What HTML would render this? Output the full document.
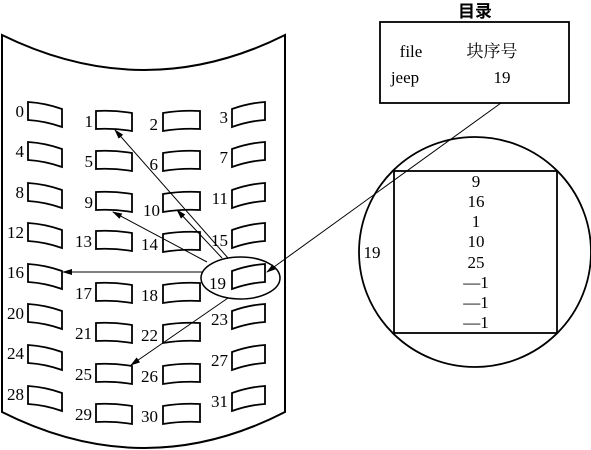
<!DOCTYPE html>
<html><head><meta charset="utf-8"><style>
html,body{margin:0;padding:0;background:#fff;}
svg{display:block;}
text{font-family:"Liberation Serif","Noto Serif CJK SC",serif;font-size:17px;fill:#000;}
</style></head><body>
<svg width="591" height="450" viewBox="0 0 591 450" xmlns="http://www.w3.org/2000/svg">
<defs><marker id="a" markerWidth="10" markerHeight="6" refX="9" refY="3" orient="auto" markerUnits="userSpaceOnUse"><path d="M0,0 L10,3 L0,6 Z" fill="#000"/></marker></defs>
<path d="M2,35 Q145,105 285,35 L285,412 Q145,484 2,412 Z" fill="#fff" stroke="#000" stroke-width="2"/>
<g fill="#fff" stroke="#000" stroke-width="1.8">
<path d="M28,102 Q45,103 62,109 L62,127 Q45,121 28,120 Z"/>
<path d="M28,142 Q45,143 62,149 L62,167 Q45,161 28,160 Z"/>
<path d="M28,183 Q45,184 62,190 L62,208 Q45,202 28,201 Z"/>
<path d="M28,223 Q45,224 62,230 L62,248 Q45,242 28,241 Z"/>
<path d="M28,264 Q45,265 62,271 L62,289 Q45,283 28,282 Z"/>
<path d="M28,304 Q45,305 62,311 L62,329 Q45,323 28,322 Z"/>
<path d="M28,345 Q45,346 62,352 L62,370 Q45,364 28,363 Z"/>
<path d="M28,386 Q45,387 62,393 L62,411 Q45,405 28,404 Z"/>
<path d="M232,109 Q249,103 265,102 L265,120 Q249,121 232,127 Z"/>
<path d="M232,149 Q249,143 265,142 L265,160 Q249,161 232,167 Z"/>
<path d="M232,190 Q249,184 265,183 L265,201 Q249,202 232,208 Z"/>
<path d="M232,230 Q249,224 265,223 L265,241 Q249,242 232,248 Z"/>
<path d="M232,271 Q249,265 265,264 L265,282 Q249,283 232,289 Z"/>
<path d="M232,311 Q249,305 265,304 L265,322 Q249,323 232,329 Z"/>
<path d="M232,352 Q249,346 265,345 L265,363 Q249,364 232,370 Z"/>
<path d="M232,393 Q249,387 265,386 L265,404 Q249,405 232,411 Z"/>
<path d="M96,111 Q114,110 132,113 L132,131 Q114,128 96,129 Z"/>
<path d="M96,151 Q114,150 132,153 L132,171 Q114,168 96,169 Z"/>
<path d="M96,192 Q114,191 132,194 L132,212 Q114,209 96,210 Z"/>
<path d="M96,231 Q114,230 132,233 L132,251 Q114,248 96,249 Z"/>
<path d="M96,283 Q114,282 132,285 L132,303 Q114,300 96,301 Z"/>
<path d="M96,323 Q114,322 132,325 L132,343 Q114,340 96,341 Z"/>
<path d="M96,364 Q114,363 132,366 L132,384 Q114,381 96,382 Z"/>
<path d="M96,404 Q114,403 132,406 L132,424 Q114,421 96,422 Z"/>
<path d="M163,113 Q181,110 200,111 L200,129 Q181,128 163,131 Z"/>
<path d="M163,153 Q181,150 200,151 L200,169 Q181,168 163,171 Z"/>
<path d="M163,194 Q181,191 200,192 L200,210 Q181,209 163,212 Z"/>
<path d="M163,234 Q181,231 200,232 L200,250 Q181,249 163,252 Z"/>
<path d="M163,285 Q181,282 200,283 L200,301 Q181,300 163,303 Z"/>
<path d="M163,325 Q181,322 200,323 L200,341 Q181,340 163,343 Z"/>
<path d="M163,366 Q181,363 200,364 L200,382 Q181,381 163,384 Z"/>
<path d="M163,406 Q181,403 200,404 L200,422 Q181,421 163,424 Z"/>
</g>
<g text-anchor="end">
<text x="24" y="117">0</text><text x="24" y="157">4</text><text x="24" y="198">8</text><text x="24" y="238">12</text>
<text x="24" y="278">16</text><text x="24" y="319">20</text><text x="24" y="359">24</text><text x="24" y="400">28</text>
<text x="93" y="127">1</text><text x="93" y="167">5</text><text x="93" y="208">9</text><text x="92" y="247">13</text>
<text x="92" y="299">17</text><text x="92" y="339">21</text><text x="92" y="380">25</text><text x="92" y="420">29</text>
<text x="158" y="130">2</text><text x="158" y="170">6</text><text x="160" y="216">10</text><text x="158" y="250">14</text>
<text x="158" y="301">18</text><text x="158" y="341">22</text><text x="158" y="382">26</text><text x="158" y="422">30</text>
<text x="228" y="123">3</text><text x="228" y="163">7</text><text x="228" y="204">11</text><text x="228" y="246">15</text>
<text x="226" y="289">19</text><text x="228" y="325">23</text><text x="228" y="366">27</text><text x="228" y="407">31</text>
</g>
<ellipse cx="240.5" cy="278" rx="39.5" ry="21" fill="none" stroke="#000" stroke-width="1.5"/>
<g stroke="#000" stroke-width="1" fill="none" marker-end="url(#a)">
<line x1="228" y1="258" x2="115" y2="130"/>
<line x1="222" y1="258" x2="177" y2="210"/>
<line x1="207" y1="262" x2="113" y2="212"/>
<line x1="202" y1="272" x2="63" y2="272"/>
<line x1="228" y1="298" x2="131" y2="365"/>
<line x1="501" y1="103" x2="267" y2="272"/>
</g>
<text x="475" y="17" text-anchor="middle" style="font-family:'Noto Sans CJK SC',sans-serif;font-size:17px;font-weight:bold">目录</text>
<rect x="380" y="22" width="189" height="81" fill="#fff" stroke="#000" stroke-width="1.8"/>
<text x="411" y="57" text-anchor="middle">file</text>
<text x="492" y="57" text-anchor="middle" style="font-family:'Noto Serif CJK SC',serif;font-size:17px">块序号</text>
<text x="405" y="83" text-anchor="middle">jeep</text>
<text x="502" y="83" text-anchor="middle">19</text>
<ellipse cx="475" cy="252" rx="116" ry="115" fill="none" stroke="#000" stroke-width="1.8"/>
<rect x="394" y="171" width="163" height="162" fill="none" stroke="#000" stroke-width="1.8"/>
<g text-anchor="middle">
<text x="476" y="187">9</text><text x="476" y="207">16</text><text x="476" y="227">1</text><text x="476" y="247">10</text>
<text x="476" y="268">25</text><text x="476" y="288">—1</text><text x="476" y="308">—1</text><text x="476" y="328">—1</text>
</g>
<text x="372" y="258" text-anchor="middle">19</text>
</svg>
</body></html>
